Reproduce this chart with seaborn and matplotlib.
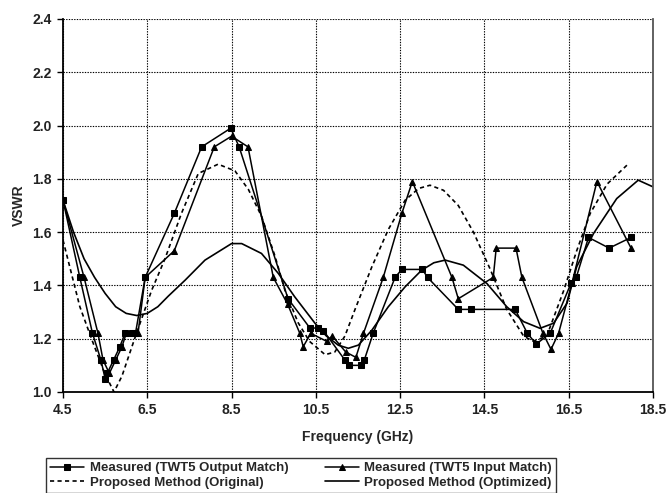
import numpy as np
import pandas as pd
import matplotlib
matplotlib.use("Agg")
import matplotlib.pyplot as plt
from matplotlib.ticker import FormatStrFormatter
import seaborn as sns

# Measured (TWT5 Output Match) - squares
out_freq = [4.5, 4.9, 5.2, 5.4, 5.5, 5.55, 5.7, 5.85, 5.97, 6.14, 6.22, 6.45, 7.14,
            7.79, 8.48, 8.68, 9.84, 10.36, 10.56, 10.68, 11.19, 11.29, 11.57, 11.65,
            11.86, 12.38, 12.54, 13.03, 13.15, 13.88, 14.18, 15.23, 15.52, 15.73,
            16.06, 16.56, 16.68, 16.97, 17.46, 17.98]
out_vswr = [1.72, 1.43, 1.22, 1.12, 1.05, 1.07, 1.12, 1.17, 1.22, 1.22, 1.22, 1.43, 1.67,
            1.92, 1.99, 1.92, 1.35, 1.24, 1.24, 1.23, 1.12, 1.10, 1.10, 1.12,
            1.22, 1.43, 1.46, 1.46, 1.43, 1.31, 1.31, 1.31, 1.22, 1.18,
            1.22, 1.41, 1.43, 1.58, 1.54, 1.58]

# Measured (TWT5 Input Match) - triangles
in_freq = [4.5, 5.0, 5.33, 5.45, 5.6, 5.75, 5.9, 6.0, 6.28, 6.45, 7.14, 8.09, 8.5, 8.89,
           9.49, 9.83, 10.12, 10.2, 10.38, 10.76, 10.89, 11.21, 11.45, 11.63, 12.1,
           12.54, 12.79, 13.73, 13.88, 14.71, 14.78, 15.25, 15.39, 15.89, 16.08,
           16.26, 16.58, 17.17, 17.98]
in_vswr = [1.72, 1.43, 1.22, 1.12, 1.07, 1.12, 1.17, 1.22, 1.22, 1.43, 1.53, 1.92, 1.96, 1.92,
           1.43, 1.33, 1.22, 1.17, 1.22, 1.19, 1.21, 1.15, 1.13, 1.22, 1.43,
           1.67, 1.79, 1.43, 1.35, 1.43, 1.54, 1.54, 1.43, 1.22, 1.16,
           1.22, 1.41, 1.79, 1.54]

# Proposed Method (Original) - dashed
orig_freq = [4.5, 4.9, 5.2, 5.49, 5.71, 5.9, 6.2, 6.6, 6.92, 7.31, 7.71, 8.18, 8.58, 8.9,
             9.21, 9.53, 9.77, 10.08, 10.35, 10.72, 10.95, 11.19, 11.43, 11.83, 12.22,
             12.62, 12.94, 13.21, 13.53, 13.88, 14.24, 14.64, 15.03, 15.43, 15.66,
             15.98, 16.38, 16.69, 17.01, 17.41, 17.92]
orig_vswr = [1.57, 1.32, 1.19, 1.07, 1.0, 1.06, 1.2, 1.38, 1.5, 1.67, 1.82, 1.855, 1.83, 1.76,
             1.66, 1.51, 1.38, 1.26, 1.19, 1.14, 1.15, 1.21, 1.31, 1.47, 1.61,
             1.72, 1.764, 1.776, 1.757, 1.70, 1.60, 1.46, 1.31, 1.21, 1.19,
             1.21, 1.38, 1.53, 1.67, 1.78, 1.857]

# Proposed Method (Optimized) - solid
opt_freq = [4.5, 4.75, 5.0, 5.25, 5.5, 5.75, 6.0, 6.25, 6.5, 6.75, 7.0, 7.4, 7.87, 8.5,
            8.74, 9.21, 9.61, 10.0, 10.48, 10.75, 11.03, 11.27, 11.51, 11.83, 12.22,
            12.62, 13.01, 13.3, 13.57, 14.0, 14.56, 15.03, 15.43, 15.82, 16.14,
            16.46, 16.69, 17.09, 17.64, 18.15, 18.5]
opt_vswr = [1.72, 1.60, 1.50, 1.43, 1.37, 1.32, 1.295, 1.287, 1.295, 1.32, 1.36, 1.42, 1.495,
            1.557, 1.557, 1.52, 1.445, 1.357, 1.258, 1.21, 1.176, 1.164, 1.176, 1.232,
            1.32, 1.395, 1.457, 1.485, 1.495, 1.476, 1.407, 1.32, 1.264, 1.239, 1.258,
            1.333, 1.47, 1.595, 1.726, 1.795, 1.77]

labels = ["Measured (TWT5 Output Match)", "Measured (TWT5 Input Match)",
          "Proposed Method (Original)", "Proposed Method (Optimized)"]

sns.set_theme(style="ticks")
plt.rcParams["font.family"] = ["Liberation Sans", "DejaVu Sans"]
plt.rcParams["font.weight"] = "bold"

fig = plt.figure(figsize=(6.68, 4.93), dpi=100)
ax = fig.add_axes([0.0943, 0.2049, 0.8832, 0.7566])

df_out = pd.DataFrame({"f": out_freq, "v": out_vswr})
df_in = pd.DataFrame({"f": in_freq, "v": in_vswr})
df_orig = pd.DataFrame({"f": orig_freq, "v": orig_vswr})
df_opt = pd.DataFrame({"f": opt_freq, "v": opt_vswr})

sns.lineplot(data=df_out, x="f", y="v", ax=ax, color="black", lw=1.1, marker="s",
             markersize=4.5, markeredgecolor="black", sort=False, estimator=None,
             label=labels[0])
sns.lineplot(data=df_in, x="f", y="v", ax=ax, color="black", lw=1.1, marker="^",
             markersize=5, markeredgecolor="black", sort=False, estimator=None,
             label=labels[1])
sns.lineplot(data=df_orig, x="f", y="v", ax=ax, color="black", lw=1.2,
             linestyle=(0, (2.5, 2)), sort=False, estimator=None, label=labels[2])
sns.lineplot(data=df_opt, x="f", y="v", ax=ax, color="black", lw=1.2,
             sort=False, estimator=None, label=labels[3])

ax.set_xlim(4.5, 18.5)
ax.set_ylim(1.0, 2.4)
ax.set_xticks(np.arange(4.5, 18.6, 2.0))
ax.set_yticks(np.arange(1.0, 2.41, 0.2))
ax.xaxis.set_major_formatter(FormatStrFormatter("%.1f"))
ax.yaxis.set_major_formatter(FormatStrFormatter("%.1f"))
ax.grid(True, color="black", linestyle=(0, (1.2, 1.2)), linewidth=0.8)
ax.tick_params(axis="both", direction="out", length=4, width=1, labelsize=10,
               colors="black", pad=4)
for lab in ax.get_xticklabels() + ax.get_yticklabels():
    lab.set_fontweight("bold")
    lab.set_color("#222222")

ax.spines["top"].set_visible(False)
ax.spines["left"].set_color("black")
ax.spines["bottom"].set_color("black")
ax.spines["right"].set_color("#555555")
for side in ["left", "bottom", "right"]:
    ax.spines[side].set_linewidth(1.3)

ax.set_xlabel("Frequency (GHz)", fontsize=10, fontweight="bold", labelpad=9)
ax.set_ylabel("VSWR", fontsize=10, fontweight="bold", labelpad=5)

# legend rows: output / input on top, original / optimized below
handles, _ = ax.get_legend_handles_labels()
ax.get_legend().remove()
order = [0, 2, 1, 3]
leg = fig.legend([handles[i] for i in order], [labels[i] for i in order],
                 ncol=2, loc="lower left",
                 bbox_to_anchor=(0.069, 0.0, 0.763, 0.089), mode="expand",
                 frameon=True, fancybox=False, handlelength=2.6,
                 borderaxespad=0, borderpad=0.3, labelspacing=0.2,
                 handletextpad=0.4, columnspacing=1.0,
                 prop={"weight": "bold", "size": 9.5})
leg.get_frame().set_edgecolor("black")
leg.get_frame().set_linewidth(1.0)

fig.savefig("out.png", dpi=100)
